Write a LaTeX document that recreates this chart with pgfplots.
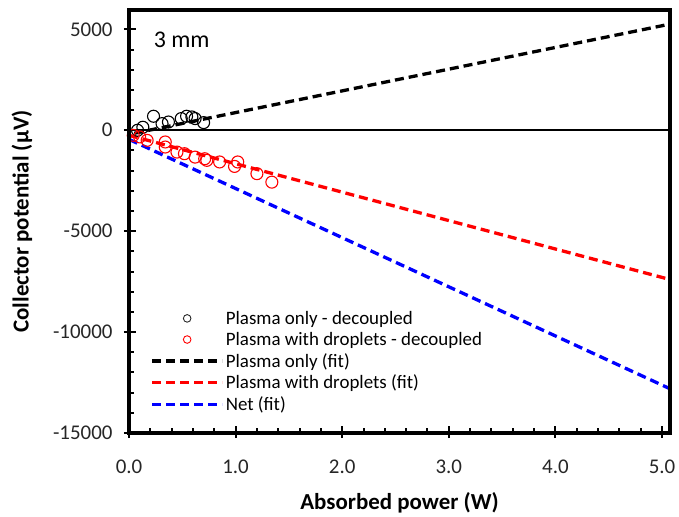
\documentclass[border=0pt]{standalone}
\usepackage{pgfplots}
\pgfplotsset{compat=1.18}
\usepackage{fontspec}
\setmainfont{Carlito}
\begin{document}
\begin{tikzpicture}
\begin{axis}[
  scale only axis, width=541bp, height=423bp,
  xmin=0, xmax=5.075, ymin=-15000, ymax=5960,
  scaled ticks=false,
  xtick={0,1,2,3,4,5}, ytick={-15000,-10000,-5000,0,5000},
  minor x tick num=4, minor y tick num=4,
  xtick pos=left, ytick pos=left,
  tick align=inside,
  major tick length=12bp, minor tick length=5bp,
  every tick/.style={black, line width=2bp},
  major x tick style={yshift=-5bp},
  major y tick style={xshift=-5bp},
  xticklabel style={/pgf/number format/fixed, /pgf/number format/fixed zerofill, /pgf/number format/precision=1, yshift=-23bp},
  yticklabel style={/pgf/number format/1000 sep={}, xshift=-13bp},
  /pgf/number format/assume math mode=true,
  tick label style={font=\fontsize{21}{24}\selectfont, text=black!85},
  xlabel={\textbf{Absorbed power (W)}},
  ylabel={\textbf{Collector potential (\textmu V)}},
  label style={font=\fontsize{23}{26}\selectfont},
  xlabel style={yshift=-12bp},
  ylabel style={yshift=14bp},
  legend style={draw=none, fill=none, at={(axis cs:0.2,-8850)}, anchor=north west,
     font=\fontsize{19}{22}\selectfont, row sep=2.5bp, inner sep=0pt,
     legend cell align=left, /tikz/every even column/.append style={column sep=2bp}},
  legend image code/.code={\draw[#1] (0bp,0bp) -- (70bp,0bp);},
]
\addplot[black, line width=1.1bp, only marks, mark=o, mark size=6bp,
  legend image code/.code={\draw[black!85, line width=0.9bp] (35bp,0bp) circle (3.8bp);}]
 coordinates {(0.08,0) (0.13,150) (0.23,695) (0.31,330) (0.37,410) (0.49,580) (0.54,695) (0.59,660) (0.62,580) (0.70,380)};
\addlegendentry{Plasma only - decoupled}
\addplot[red, line width=1.1bp, only marks, mark=o, mark size=6bp,
  legend image code/.code={\draw[red, line width=0.9bp] (35bp,0bp) circle (3.8bp);}]
 coordinates {(0.04,-250) (0.10,-330) (0.17,-500) (0.34,-580) (0.34,-830) (0.45,-1080) (0.52,-1160) (0.62,-1330) (0.71,-1410) (0.73,-1490) (0.85,-1570) (1.02,-1570) (0.99,-1790) (1.20,-2150) (1.34,-2570)};
\addlegendentry{Plasma with droplets - decoupled}
\addplot[black, dash pattern=on 9bp off 5bp, line width=3.3bp] coordinates {(0.05,-146) (5.075,5261)};
\addlegendentry{Plasma only (fit)}
\addplot[red, dash pattern=on 9bp off 5bp, line width=3.3bp] coordinates {(0,-250) (5.075,-7396)};
\addlegendentry{Plasma with droplets (fit)}
\addplot[blue, dash pattern=on 9bp off 5bp, line width=3.3bp] coordinates {(0,-450) (5.075,-12808)};
\addlegendentry{Net (fit)}
\addplot[black, line width=2.4bp, forget plot] coordinates {(0,0) (5.075,0)};
\node[anchor=west, font=\fontsize{24}{28}\selectfont] at (axis cs:0.2,4500) {3 mm};
\end{axis}
\draw[black, line width=3.6bp] (current axis.south west) rectangle (current axis.north east);
\pgfresetboundingbox
\path[use as bounding box] ([shift={(-129bp,-84bp)}]current axis.south west) rectangle ([shift={(9bp,10bp)}]current axis.north east);
\end{tikzpicture}
\end{document}
